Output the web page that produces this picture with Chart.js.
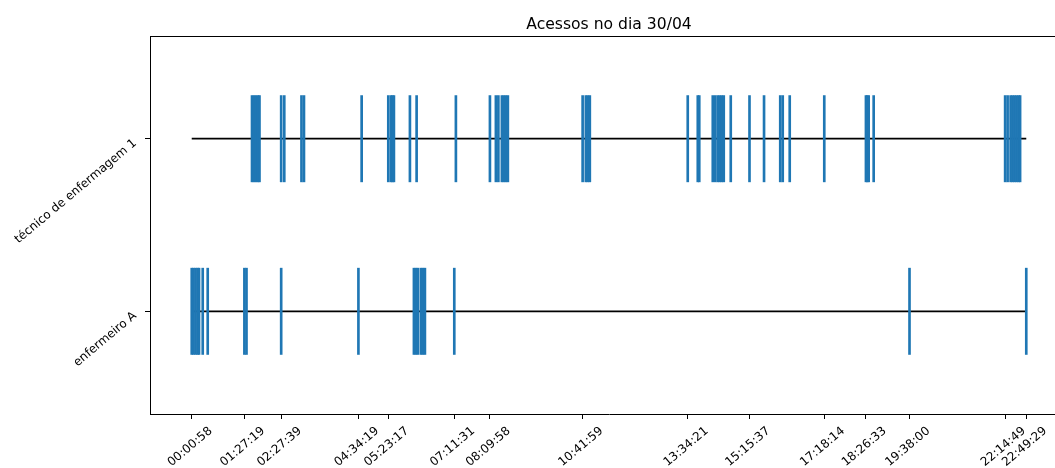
<!DOCTYPE html>
<html>
<head>
<meta charset="utf-8">
<script src="https://cdn.jsdelivr.net/npm/chart.js@4/dist/chart.umd.min.js"></script>
<style>
html, body { margin: 0; padding: 0; overflow: hidden; background: #fff; }
#wrap { width: 1080px; height: 468px; }
</style>
</head>
<body>
<div id="wrap"><canvas id="c" width="1080" height="468"></canvas></div>
<script>
// Rows of the event plot (bottom to top)
const rows = ["enfermeiro A", "técnico de enfermagem 1"];

// Access times per professional (HH:MM:SS)
const accessEnfermeiroA = [
  "00:00:58", "00:03:55", "00:07:12", "00:10:28", "00:12:56",
  "00:19:00", "00:27:11",
  "01:27:19", "01:30:47",
  "02:27:39",
  "04:34:19",
  "06:05:19", "06:08:36", "06:11:52", "06:16:47", "06:20:04", "06:23:21",
  "07:11:31",
  "19:38:00",
  "22:49:29"
];

const accessTecnico1 = [
  "01:39:48", "01:43:05", "01:46:21", "01:49:38", "01:52:05",
  "02:27:39", "02:32:44",
  "03:00:56", "03:05:02",
  "04:39:36",
  "05:23:17", "05:27:37", "05:30:05", "05:32:32",
  "05:58:46", "06:09:45",
  "07:14:09",
  "08:09:58", "08:19:43", "08:23:49", "08:29:33", "08:32:50", "08:36:06", "08:39:23",
  "10:41:59", "10:47:13", "10:50:30", "10:53:47",
  "13:34:21", "13:50:48", "13:53:15",
  "14:15:23", "14:19:29", "14:23:35", "14:26:52", "14:30:08", "14:33:25",
  "14:44:53",
  "15:15:37", "15:39:28",
  "16:06:01", "16:10:07", "16:21:35",
  "17:18:14",
  "18:26:33", "18:28:36", "18:31:04", "18:39:15",
  "22:14:49", "22:18:53", "22:23:48", "22:27:05", "22:30:21", "22:33:38", "22:36:55", "22:39:22"
];

// Labelled times on the x axis
const tickLabels = [
  "00:00:58", "01:27:19", "02:27:39", "04:34:19", "05:23:17", "07:11:31",
  "08:09:58", "10:41:59", "13:34:21", "15:15:37", "17:18:14", "18:26:33",
  "19:38:00", "22:14:49", "22:49:29"
];

function toSeconds(hms) {
  const [h, m, s] = hms.split(":").map(Number);
  return h * 3600 + m * 60 + s;
}
function pad2(n) { return String(n).padStart(2, "0"); }
function toHMS(sec) {
  sec = Math.round(sec);
  return pad2(Math.floor(sec / 3600)) + ":" + pad2(Math.floor((sec % 3600) / 60)) + ":" + pad2(sec % 60);
}

const eventsByRow = [accessEnfermeiroA, accessTecnico1].map(list => list.map(toSeconds));
const allTimes = eventsByRow.flat();
const tMin = Math.min(...allTimes);
const tMax = Math.max(...allTimes);
const span = tMax - tMin;
const tickValues = tickLabels.map(toSeconds);

const BLUE = "#1f77b4";
const FONT = "DejaVu Sans";
const HALF = 0.25; // half length of each event mark, in row units

const datasets = [];
eventsByRow.forEach((times, row) => {
  // baseline from the first to the last access of the day
  datasets.push({
    type: "line",
    data: [{ x: tMin, y: row }, { x: tMax, y: row }],
    borderColor: "#000",
    borderWidth: 1.8,
    pointRadius: 0,
    order: 2
  });
  // one vertical mark per access
  datasets.push({
    type: "bar",
    data: times.map(t => ({ x: t, y: [row - HALF, row + HALF] })),
    backgroundColor: BLUE,
    borderWidth: 0,
    barThickness: 2,
    grouped: false,
    order: 1
  });
});

const framePlugin = {
  id: "frame",
  afterDraw(chart) {
    const { ctx, chartArea: a } = chart;
    ctx.save();
    ctx.strokeStyle = "#000";
    ctx.lineWidth = 1;
    ctx.beginPath();
    ctx.moveTo(a.left, Math.round(a.top) + 0.5);
    ctx.lineTo(a.right, Math.round(a.top) + 0.5);
    ctx.lineTo(a.right, a.bottom);
    ctx.stroke();
    ctx.restore();
  }
};

new Chart(document.getElementById("c"), {
  type: "bar",
  data: { datasets },
  plugins: [framePlugin],
  options: {
    responsive: false,
    animation: false,
    devicePixelRatio: 1,
    layout: { padding: { left: 0, right: 12, top: 0, bottom: 0 } },
    plugins: {
      legend: { display: false },
      tooltip: { enabled: false },
      title: {
        display: true,
        text: "Acessos no dia 30/04",
        fullSize: false,
        color: "#000",
        font: { family: FONT, size: 15.6, weight: "normal" },
        padding: { top: 16, bottom: 1.3 }
      }
    },
    scales: {
      x: {
        type: "linear",
        min: tMin - 0.05 * span,
        max: tMax + 0.05 * span,
        offset: false,
        afterBuildTicks: s => { s.ticks = tickValues.map(v => ({ value: v })); },
        afterFit: s => { s.height = 54; },
        ticks: {
          autoSkip: false,
          minRotation: 40,
          maxRotation: 40,
          labelOffset: 19,
          padding: 5,
          color: "#000",
          font: { family: FONT, size: 12 },
          callback: v => toHMS(v)
        },
        grid: { offset: false, drawOnChartArea: false, drawTicks: true, tickLength: 5, tickColor: "#000", tickWidth: 1 },
        border: { display: true, color: "#000", width: 1 }
      },
      y: {
        type: "linear",
        min: -0.595,
        max: 1.595,
        afterBuildTicks: s => { s.ticks = rows.map((_, i) => ({ value: i })); },
        afterFit: s => { s.width = 150; },
        ticks: {
          minRotation: 40,
          maxRotation: 40,
          padding: 10,
          labelOffset: 3,
          color: "#000",
          font: { family: FONT, size: 12 },
          callback: v => rows[v]
        },
        grid: { drawOnChartArea: false, drawTicks: true, tickLength: 5, tickColor: "#000", tickWidth: 1 },
        border: { display: true, color: "#000", width: 1 }
      }
    }
  }
});
</script>
</body>
</html>
